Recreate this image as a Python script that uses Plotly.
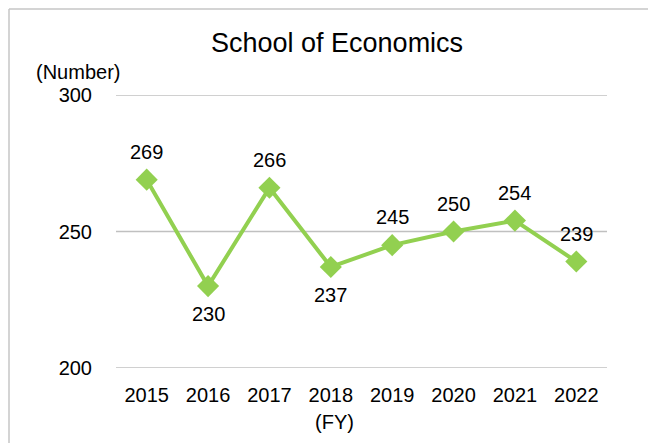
import plotly.graph_objects as go

years = ["2015", "2016", "2017", "2018", "2019", "2020", "2021", "2022"]
counts = [269, 230, 266, 237, 245, 250, 254, 239]
label_side = ["above", "below", "above", "below", "above", "above", "above", "above"]
y_ticks = [200, 250, 300]

title_text = "School of Economics"
y_title = "(Number)"
x_title = "(FY)"

GREEN = "#92D050"
FONT = "Liberation Sans, Arial, sans-serif"

# page pixel targets (the page body has an 8px margin)
OFF = 8
W, H = 656, 443
PLOT_L, PLOT_R, PLOT_T, PLOT_B = 116, 607, 95, 368
L = PLOT_L - OFF
T = PLOT_T - OFF
pw = PLOT_R - PLOT_L
ph = PLOT_B - PLOT_T
R = W - L - pw
B = H - T - ph

def px_x(px):
    return (px - PLOT_L) / pw

def px_y(py):
    return (PLOT_B - py) / ph

fig = go.Figure()
fig.add_trace(go.Scatter(
    x=years, y=counts, mode="lines+markers",
    line=dict(color=GREEN, width=4),
    marker=dict(symbol="diamond", size=17, color=GREEN),
    hoverinfo="skip", showlegend=False, cliponaxis=False,
))

annotations = []
for i, (v, side) in enumerate(zip(counts, label_side)):
    annotations.append(dict(
        x=i, y=v, xref="x", yref="y", text=str(v), showarrow=False,
        xanchor="center", yanchor="middle",
        yshift=28 if side == "above" else -28,
        font=dict(family=FONT, size=20, color="#000000"),
    ))

annotations += [
    dict(text=title_text, x=px_x(337), y=px_y(43), xref="paper", yref="paper",
         showarrow=False, xanchor="center", yanchor="middle",
         font=dict(family=FONT, size=27, color="#000000")),
    dict(text=y_title, x=px_x(78), y=px_y(72), xref="paper", yref="paper",
         showarrow=False, xanchor="center", yanchor="middle",
         font=dict(family=FONT, size=20, color="#000000")),
    dict(text=x_title, x=px_x(334), y=px_y(422), xref="paper", yref="paper",
         showarrow=False, xanchor="center", yanchor="middle",
         font=dict(family=FONT, size=20, color="#000000")),
]

shapes = [dict(type="line", xref="paper", yref="y", x0=0, x1=1, y0=v, y1=v,
               line=dict(color="#c0c0c0", width=1.5), layer="below") for v in y_ticks]
shapes.append(dict(type="line", xref="paper", yref="paper",
                   x0=px_x(9), x1=px_x(9), y0=px_y(9), y1=px_y(470),
                   line=dict(color="#c6c6c6", width=1.5)))
shapes.append(dict(type="line", xref="paper", yref="paper",
                   x0=px_x(9), x1=px_x(700), y0=px_y(9), y1=px_y(9),
                   line=dict(color="#c6c6c6", width=1.5)))

fig.update_layout(
    width=W, height=H,
    margin=dict(l=L, r=R, t=T, b=B, pad=0),
    paper_bgcolor="#ffffff", plot_bgcolor="#ffffff",
    font=dict(family=FONT, size=20, color="#000000"),
    annotations=annotations,
    shapes=shapes,
)
fig.update_xaxes(type="category", categoryorder="array", categoryarray=years,
                 range=[-0.5, len(years) - 0.5],
                 showgrid=False, zeroline=False, showline=False,
                 ticks="outside", ticklen=9, tickcolor="rgba(0,0,0,0)",
                 tickfont=dict(size=20))
fig.update_yaxes(range=[200, 300], tickvals=y_ticks, showgrid=False,
                 zeroline=False, showline=False,
                 ticks="outside", ticklen=19, tickcolor="rgba(0,0,0,0)",
                 tickfont=dict(size=20))

fig.write_html("out.html")
